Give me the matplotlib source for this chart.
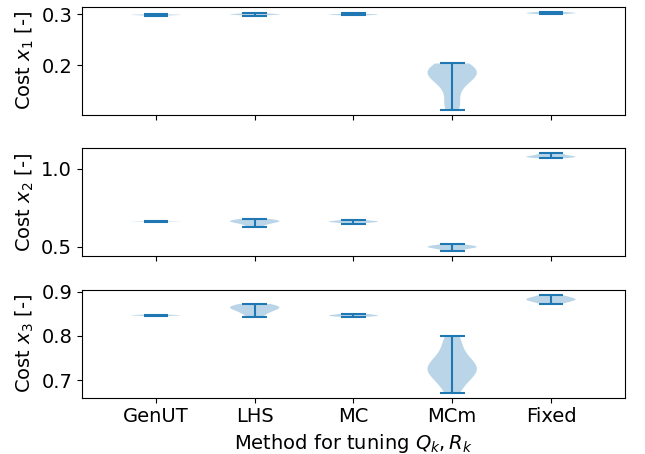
import matplotlib
matplotlib.use("Agg")
import matplotlib.pyplot as plt

methods = ["GenUT", "LHS", "MC", "MCm", "Fixed"]

# cost samples for state x1, one list per method
x1_genut = [0.2968, 0.2976, 0.2980, 0.2983, 0.2985, 0.2988, 0.2996]
x1_lhs = [0.2967, 0.2978, 0.2985, 0.2990, 0.2993, 0.2996, 0.3000, 0.3006, 0.3020]
x1_mc = [0.2975, 0.2982, 0.2987, 0.2990, 0.2993, 0.2998, 0.3014]
x1_mcm = [0.112, 0.118, 0.130, 0.148, 0.162, 0.170, 0.175, 0.178, 0.181,
          0.184, 0.187, 0.190, 0.193, 0.196, 0.199, 0.203]
x1_fixed = [0.2995, 0.3008, 0.3015, 0.3020, 0.3025, 0.3032, 0.3045]

# cost samples for state x2
x2_genut = [0.6605, 0.6612, 0.6618, 0.6622, 0.6628, 0.6635]
x2_lhs = [0.628, 0.640, 0.650, 0.656, 0.660, 0.664, 0.667, 0.670, 0.674, 0.679]
x2_mc = [0.650, 0.657, 0.660, 0.662, 0.664, 0.667, 0.673]
x2_mcm = [0.472, 0.485, 0.494, 0.498, 0.501, 0.504, 0.508, 0.517]
x2_fixed = [1.068, 1.072, 1.075, 1.077, 1.079, 1.082, 1.088, 1.095, 1.100]

# cost samples for state x3
x3_genut = [0.8450, 0.8458, 0.8463, 0.8467, 0.8472, 0.8480]
x3_lhs = [0.8425, 0.849, 0.854, 0.858, 0.861, 0.863, 0.865, 0.867, 0.869, 0.872]
x3_mc = [0.843, 0.8445, 0.8455, 0.846, 0.847, 0.8485, 0.850]
x3_mcm = [0.672, 0.690, 0.705, 0.715, 0.720, 0.725, 0.728, 0.732, 0.738,
          0.748, 0.765, 0.785, 0.799]
x3_fixed = [0.872, 0.876, 0.879, 0.881, 0.882, 0.884, 0.886, 0.889, 0.893]

x1_data = [x1_genut, x1_lhs, x1_mc, x1_mcm, x1_fixed]
x2_data = [x2_genut, x2_lhs, x2_mc, x2_mcm, x2_fixed]
x3_data = [x3_genut, x3_lhs, x3_mc, x3_mcm, x3_fixed]

plt.rcParams["font.size"] = 14

fig, axes = plt.subplots(3, 1, sharex=True, figsize=(6.45, 4.54), dpi=100)
fig.subplots_adjust(left=0.127, right=0.969, top=0.985, bottom=0.124, hspace=0.31)

all_data = [x1_data, x2_data, x3_data]
yticks = [[0.2, 0.3], [0.5, 1.0], [0.7, 0.8, 0.9]]
positions = list(range(1, len(methods) + 1))

for i, ax in enumerate(axes):
    ax.violinplot(all_data[i], positions=positions)
    ax.set_yticks(yticks[i])
    ax.set_ylabel(f"Cost $x_{i + 1}$ [-]")

axes[-1].set_xticks(positions)
axes[-1].set_xticklabels(methods)
axes[-1].set_xlim(0.25, 5.75)
axes[-1].set_xlabel("Method for tuning $Q_k, R_k$")

fig.savefig("out.png", dpi=100)
